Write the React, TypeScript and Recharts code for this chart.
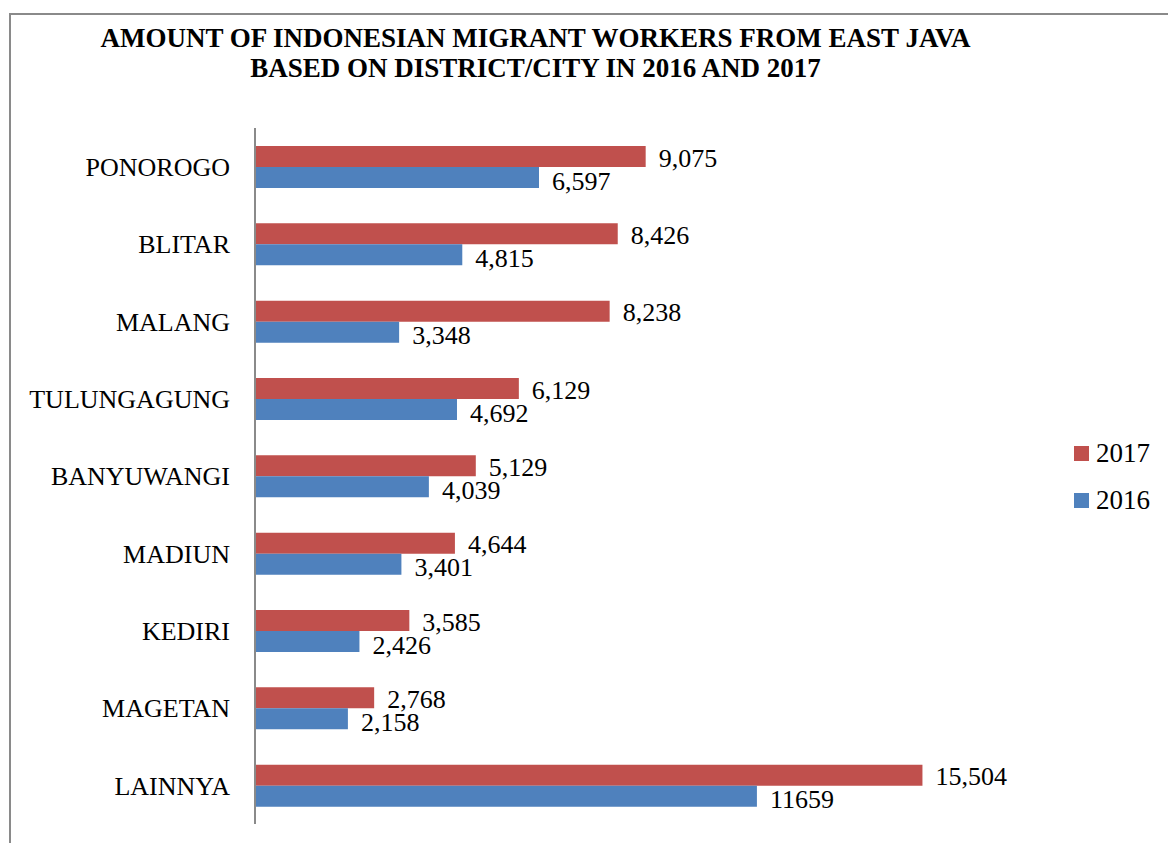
import React from 'react';
import { BarChart, Bar, XAxis, YAxis, LabelList } from 'recharts';

const districts = ['PONOROGO', 'BLITAR', 'MALANG', 'TULUNGAGUNG', 'BANYUWANGI', 'MADIUN', 'KEDIRI', 'MAGETAN', 'LAINNYA'];
const workers2017 = [9075, 8426, 8238, 6129, 5129, 4644, 3585, 2768, 15504];
const workers2016 = [6597, 4815, 3348, 4692, 4039, 3401, 2426, 2158, 11659];
const labels2017 = ['9,075', '8,426', '8,238', '6,129', '5,129', '4,644', '3,585', '2,768', '15,504'];
const labels2016 = ['6,597', '4,815', '3,348', '4,692', '4,039', '3,401', '2,426', '2,158', '11659'];

const RED = '#C0504D';
const BLUE = '#4F81BD';
const FONT = '"Liberation Serif", "Times New Roman", serif';

const data = districts.map((d, i) => ({
  name: d,
  y2017: workers2017[i],
  y2016: workers2016[i],
  l2017: labels2017[i],
  l2016: labels2016[i],
}));

export default function App() {
  return (
    <div style={{ position: 'absolute', left: 0, top: 0, width: 1168, height: 843, background: '#fff', fontFamily: FONT, overflow: 'hidden' }}>
      {/* frame, cropped at right and bottom */}
      <div style={{ position: 'absolute', left: 9, top: 13, width: 1200, height: 900, borderTop: '2px solid #8a8a8a', borderLeft: '2px solid #8a8a8a' }} />
      <div style={{ position: 'absolute', left: 0, top: 23, width: 1071, textAlign: 'center', fontWeight: 'bold', fontSize: 27, lineHeight: '30px', color: '#000', whiteSpace: 'nowrap' }}>
        AMOUNT OF INDONESIAN MIGRANT WORKERS FROM EAST JAVA<br />
        BASED ON DISTRICT/CITY IN 2016 AND 2017
      </div>
      <div style={{ position: 'absolute', left: 0, top: 0 }}>
        <BarChart
          width={1168}
          height={843}
          data={data}
          layout="vertical"
          margin={{ top: 128, right: 52, bottom: 19, left: 0 }}
          barGap={0}
          barSize={21}
        >
          <XAxis type="number" domain={[0, 20000]} hide />
          <YAxis
            type="category"
            dataKey="name"
            width={255}
            axisLine={{ stroke: '#8a8a8a', strokeWidth: 2 }}
            tickLine={false}
            tickSize={0}
            tickMargin={25}
            tick={{ fill: '#000', fontSize: 26, fontFamily: FONT }}
          />
          <Bar dataKey="y2017" fill={RED} isAnimationActive={false}>
            <LabelList dataKey="l2017" position="right" offset={13} dy={1} fill="#000" fontSize={26} fontFamily={FONT} />
          </Bar>
          <Bar dataKey="y2016" fill={BLUE} isAnimationActive={false}>
            <LabelList dataKey="l2016" position="right" offset={13} dy={3} fill="#000" fontSize={26} fontFamily={FONT} />
          </Bar>
        </BarChart>
      </div>
      <div style={{ position: 'absolute', left: 1074, top: 436, fontSize: 27, lineHeight: '34px', color: '#000' }}>
        <div style={{ display: 'flex', alignItems: 'center', height: 34 }}>
          <span style={{ width: 15, height: 15, background: RED, display: 'inline-block', marginRight: 7 }} />2017
        </div>
        <div style={{ display: 'flex', alignItems: 'center', height: 34, marginTop: 13 }}>
          <span style={{ width: 15, height: 15, background: BLUE, display: 'inline-block', marginRight: 7 }} />2016
        </div>
      </div>
    </div>
  );
}
